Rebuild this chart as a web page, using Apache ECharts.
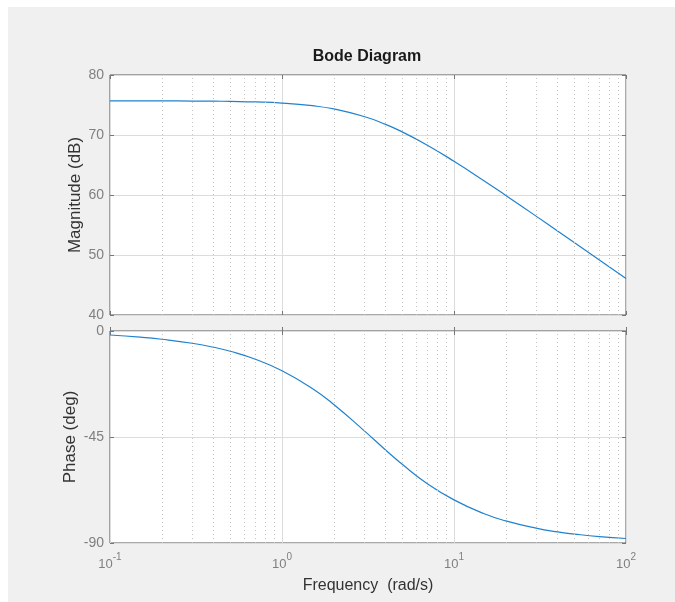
<!DOCTYPE html>
<html>
<head>
<meta charset="utf-8">
<script src="https://cdn.jsdelivr.net/npm/echarts@6/dist/echarts.min.js"></script>
<style>
  html, body { margin: 0; padding: 0; background: #fff; }
  #chart { position: absolute; left: 8px; top: 7px; width: 667px; height: 595px; }
</style>
</head>
<body>
<div id="chart"></div>
<script>
// values
const freq = [0.1, 0.15, 0.2, 0.3, 0.4, 0.5, 0.7, 1, 1.5, 2, 3, 4, 5, 7, 10, 15, 20, 30, 40, 50, 70, 100];
const magnitude = [75.70, 75.69, 75.68, 75.66, 75.64, 75.60, 75.51, 75.32, 74.88, 74.34, 73.08, 71.78,
  70.52, 68.30, 65.62, 62.34, 59.93, 56.48, 54.00, 52.07, 49.16, 46.07];
const phase = [-1.7, -2.6, -3.5, -5.2, -6.9, -8.6, -12.0, -16.9, -24.4, -31.2, -42.3, -50.5,
  -56.6, -64.8, -71.7, -77.6, -80.6, -83.7, -85.3, -86.2, -87.3, -88.1];

// decade tick labels (10^exp)
const decades = [0.1, 1, 10, 100];
const decadeExp = ['-1', '0', '1', '2'];
// minor (dotted) grid positions
const minorFreq = [0.2, 0.3, 0.4, 0.5, 0.6, 0.7, 0.8, 0.9, 2, 3, 4, 5, 6, 7, 8, 9, 20, 30, 40, 50, 60, 70, 80, 90];

const font = "'Liberation Sans', Arial, Helvetica, sans-serif";
const tickGray = '#808080';
const lineBlue = '#2082cf';

const chart = echarts.init(document.getElementById('chart'));

function xAx(gridIndex, pos, showLabels, grid) {
  return {
    type: 'log', logBase: 10, min: 0.1, max: 100, gridIndex: gridIndex, position: pos,
    axisLine: { show: false },
    axisTick: { show: true, inside: true, length: 4, lineStyle: { color: '#777' } },
    splitLine: { show: grid, lineStyle: { color: '#dcdcdc', width: 1 } },
    axisLabel: {
      show: showLabels, margin: 9,
      formatter: function (v) {
        const i = decades.findIndex(d => Math.abs(d - v) / d < 1e-6);
        return '{b|10}{s|' + (i >= 0 ? decadeExp[i] : '') + '}';
      },
      rich: {
        b: { fontSize: 13, fontFamily: font, color: tickGray, lineHeight: 19, verticalAlign: 'bottom' },
        s: { fontSize: 10, fontFamily: font, color: tickGray, verticalAlign: 'top' }
      }
    }
  };
}

function yAx(gridIndex, pos, min, max, interval, showLabels, grid, name, gap) {
  return {
    type: 'value', gridIndex: gridIndex, position: pos, min: min, max: max, interval: interval,
    name: name, nameLocation: 'middle', nameGap: gap, nameMoveOverlap: false,
    nameTextStyle: { fontFamily: font, fontSize: 17, color: '#333' },
    axisLine: { show: false },
    axisTick: { show: true, inside: true, length: 4, lineStyle: { color: '#777' } },
    splitLine: { show: grid, lineStyle: { color: '#dcdcdc', width: 1 } },
    axisLabel: { show: showLabels, margin: 6, fontFamily: font, fontSize: 14, color: tickGray }
  };
}

function minorLines() {
  return {
    silent: true, symbol: 'none', label: { show: false },
    lineStyle: { type: [1, 3], color: '#c4c4c4', width: 1 },
    data: minorFreq.map(f => ({ xAxis: f }))
  };
}

const xMag = xAx(0, 'bottom', false, true);
const xPhase = xAx(1, 'bottom', true, true);
xPhase.name = 'Frequency  (rad/s)';
xPhase.nameLocation = 'middle';
xPhase.nameGap = 35;
xPhase.nameMoveOverlap = false;
xPhase.nameTextStyle = { fontFamily: font, fontSize: 16, color: '#333' };

const option = {
  backgroundColor: '#f0f0f0',
  animation: false,
  title: {
    text: 'Bode Diagram', left: 354, top: 37, textAlign: 'center',
    textStyle: { fontFamily: font, fontSize: 16, fontWeight: 'bold', color: '#1a1a1a' }
  },
  grid: [
    { left: 102, top: 68, width: 516, height: 240, show: true, backgroundColor: '#fff', borderColor: '#555', borderWidth: 1 },
    { left: 102, top: 324, width: 516, height: 212, show: true, backgroundColor: '#fff', borderColor: '#555', borderWidth: 1 }
  ],
  xAxis: [
    xMag,
    xPhase,
    xAx(0, 'top', false, false),
    xAx(1, 'top', false, false)
  ],
  yAxis: [
    yAx(0, 'left', 40, 80, 10, true, true, 'Magnitude (dB)', 26),
    yAx(1, 'left', -90, 0, 45, true, true, 'Phase (deg)', 31),
    yAx(0, 'right', 40, 80, 10, false, false, '', 0),
    yAx(1, 'right', -90, 0, 45, false, false, '', 0)
  ],
  series: [
    {
      type: 'line', xAxisIndex: 0, yAxisIndex: 0, showSymbol: false, smooth: true,
      lineStyle: { color: lineBlue, width: 1.2 },
      data: freq.map((f, i) => [f, magnitude[i]]),
      markLine: minorLines()
    },
    {
      type: 'line', xAxisIndex: 1, yAxisIndex: 1, showSymbol: false, smooth: true,
      lineStyle: { color: lineBlue, width: 1.2 },
      data: freq.map((f, i) => [f, phase[i]]),
      markLine: minorLines()
    }
  ]
};

chart.setOption(option);
</script>
</body>
</html>
